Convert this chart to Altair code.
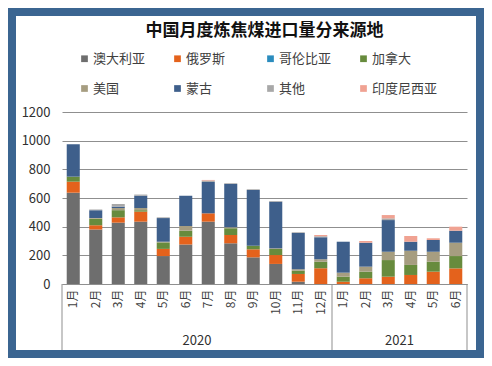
import altair as alt
import pandas as pd

# ---- data ----
years = [2020] * 12 + [2021] * 6
months = ["1月", "2月", "3月", "4月", "5月", "6月", "7月", "8月", "9月", "10月", "11月", "12月",
          "1月", "2月", "3月", "4月", "5月", "6月"]
series = ["澳大利亚", "俄罗斯", "哥伦比亚", "加拿大", "美国", "蒙古", "其他", "印度尼西亚"]
colors = ["#6E6E6E", "#E4621C", "#2B8CBE", "#678B3D", "#A69D80", "#3E5F8B", "#A8A8A8", "#F0A292"]

australia = [637, 380, 428, 435, 195, 275, 435, 284, 186, 140, 16, 0, 0, 0, 0, 0, 0, 0]
russia = [77, 30, 37, 70, 50, 55, 58, 58, 56, 62, 54, 110, 16, 40, 51, 63, 86, 109]
colombia = [0] * 18
canada = [35, 45, 50, 10, 45, 42, 0, 47, 25, 42, 23, 46, 35, 46, 116, 70, 70, 86]
usa = [0, 5, 15, 15, 5, 33, 0, 7, 0, 5, 10, 16, 28, 35, 58, 99, 69, 93]
mongolia = [226, 55, 10, 86, 165, 211, 219, 302, 389, 325, 253, 154, 216, 167, 221, 63, 82, 84]
other = [0, 5, 18, 8, 5, 0, 10, 5, 5, 5, 5, 8, 0, 0, 12, 0, 0, 0]
indonesia = [0, 0, 0, 0, 0, 0, 4, 0, 0, 0, 0, 8, 0, 12, 23, 40, 12, 28]

values = [australia, russia, colombia, canada, usa, mongolia, other, indonesia]
year_labels = ["2020", "2021"]

keys = [f"{y}|{m}" for y, m in zip(years, months)]
rows = []
for si, (name, vals) in enumerate(zip(series, values)):
    for k, v in zip(keys, vals):
        rows.append({"key": k, "country": name, "value": v, "idx": si})
df = pd.DataFrame(rows)

FONT = "Noto Sans CJK SC"
W, H = 405, 172
BLUE = "#3B6591"

xscale = alt.Scale(domain=keys, paddingInner=0, paddingOuter=0)

# blue frame around the white panel (decoration)
frame = alt.Chart(alt.Data(values=[{"a": 1}])).mark_rect(
    fillOpacity=0, stroke=BLUE, strokeWidth=8
).encode(
    x=alt.value(-50), x2=alt.value(418), y=alt.value(-100), y2=alt.value(242)
)

bars = alt.Chart(df).mark_bar(width=alt.RelativeBandSize(0.58)).encode(
    x=alt.X("key:N", scale=xscale, sort=None, title=None,
            axis=alt.Axis(labelExpr="split(datum.value,'|')[1]", labelAngle=-90,
                          labelFontSize=12, labelFont=FONT, labelColor="#404040",
                          labelPadding=5, ticks=False, domainColor="#8F8F8F", grid=False)),
    y=alt.Y("value:Q", stack="zero", title=None,
            scale=alt.Scale(domain=[0, 1200]),
            axis=alt.Axis(values=[0, 200, 400, 600, 800, 1000, 1200], format="d",
                          ticks=False, domain=False, labelFontSize=13, labelFont=FONT,
                          labelColor="#303030", labelPadding=12,
                          gridColor="#8F8F8F", gridWidth=1)),
    color=alt.Color("country:N", scale=alt.Scale(domain=series, range=colors),
                    legend=alt.Legend(title=None, orient="none", legendX=16, legendY=-60,
                                      direction="horizontal", columns=4,
                                      symbolType="square", symbolSize=45,
                                      symbolStrokeWidth=0, labelFontSize=13,
                                      labelFont=FONT, labelColor="#404040",
                                      gridAlign="all", columnPadding=12, rowPadding=16,
                                      labelOffset=2)),
    order=alt.Order("idx:Q", sort="ascending"),
)

sep_df = pd.DataFrame({"key": [keys[0], keys[12]]})
sep1 = alt.Chart(sep_df).mark_rule(color="#8F8F8F").encode(
    x=alt.X("key:N", scale=xscale, sort=None, bandPosition=0),
    y=alt.value(H), y2=alt.value(239)
)
sep2 = alt.Chart(pd.DataFrame({"key": [keys[-1]]})).mark_rule(color="#8F8F8F").encode(
    x=alt.X("key:N", scale=xscale, sort=None, bandPosition=1),
    y=alt.value(H), y2=alt.value(239)
)

yl_df = pd.DataFrame({"key": [keys[5], keys[14]], "label": year_labels})
ylab = alt.Chart(yl_df).mark_text(font=FONT, fontSize=13, color="#303030",
                                  baseline="middle").encode(
    x=alt.X("key:N", scale=xscale, sort=None, bandPosition=1),
    y=alt.value(229),
    text="label:N",
)

chart = alt.layer(bars, sep1, sep2, ylab, frame).properties(
    width=W, height=H,
    title=alt.TitleParams("中国月度炼焦煤进口量分来源地", font=FONT, fontSize=17,
                          fontWeight="bold", color="#111111", anchor="middle", offset=-32),
    background="white",
    padding={"left": 54, "top": 104, "right": 17, "bottom": 74},
    autosize=alt.AutoSizeParams(type="none"),
).configure_view(stroke=None)

chart.save("out.html", embed_options={"renderer": "svg", "actions": False})
